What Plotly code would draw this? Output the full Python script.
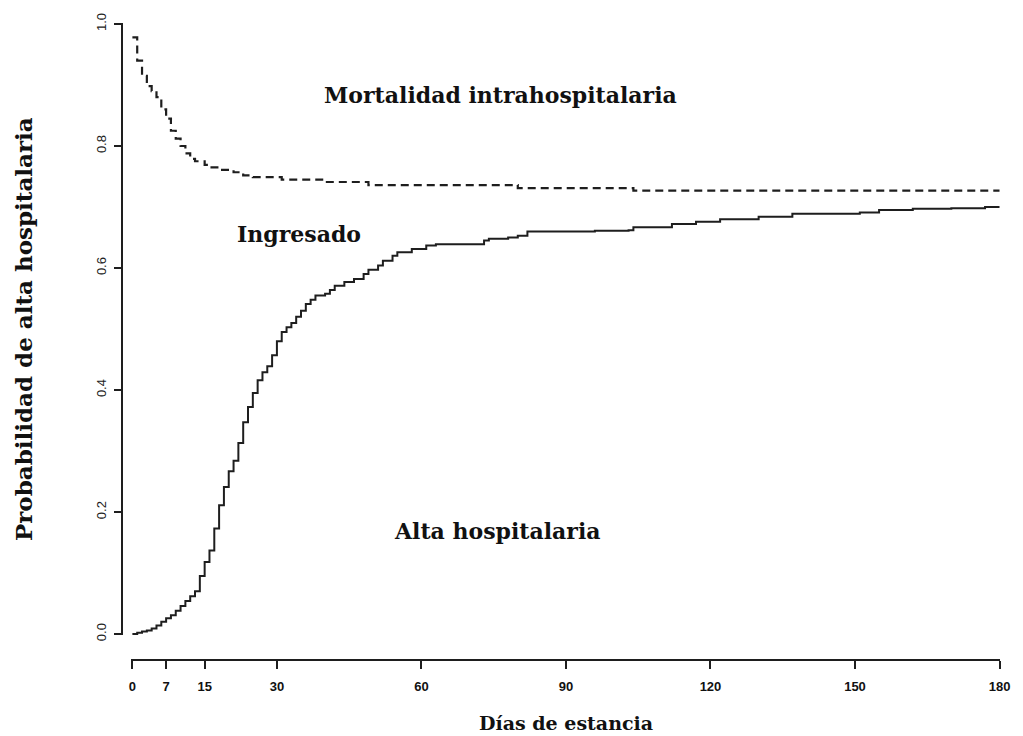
import plotly.graph_objects as go

# Cumulative probability of hospital discharge (solid step curve)
alta_dias = [0, 1, 2, 3, 4, 5, 6, 7, 8, 9, 10, 11, 12, 13, 14, 15, 16, 17, 18, 19,
             20, 21, 22, 23, 24, 25, 26, 27, 28, 29, 30, 31, 32, 33, 34, 35, 36, 37,
             38, 40, 41, 42, 44, 46, 48, 49, 51, 52, 54, 55, 58, 61, 63, 73, 74, 78,
             80, 82, 96, 103, 104, 112, 117, 122, 130, 137, 151, 155, 162, 170, 177, 180]
alta_prob = [0.000, 0.002, 0.004, 0.006, 0.009, 0.014, 0.020, 0.026, 0.031, 0.038,
             0.046, 0.054, 0.062, 0.070, 0.095, 0.118, 0.137, 0.173, 0.211, 0.241,
             0.267, 0.284, 0.313, 0.347, 0.372, 0.395, 0.416, 0.429, 0.439, 0.457,
             0.480, 0.495, 0.503, 0.510, 0.520, 0.530, 0.541, 0.548, 0.555, 0.558,
             0.564, 0.571, 0.577, 0.582, 0.590, 0.597, 0.604, 0.612, 0.620, 0.626,
             0.631, 0.637, 0.639, 0.645, 0.648, 0.650, 0.653, 0.660, 0.661, 0.662,
             0.667, 0.672, 0.676, 0.680, 0.684, 0.689, 0.691, 0.695, 0.697, 0.698,
             0.700, 0.700]

# Upper boundary: 1 - cumulative in-hospital mortality (dashed step curve)
mort_dias = [0, 1, 2, 3, 4, 5, 6, 7, 8, 9, 10, 11, 12, 13, 15, 16, 18, 21, 23, 25,
             31, 40, 49, 80, 104, 180]
mort_prob = [0.978, 0.940, 0.915, 0.898, 0.890, 0.880, 0.860, 0.845, 0.825, 0.812,
             0.800, 0.788, 0.779, 0.775, 0.769, 0.765, 0.761, 0.757, 0.752, 0.749,
             0.745, 0.741, 0.736, 0.731, 0.727, 0.727]

x_ticks = [0, 7, 15, 30, 60, 90, 120, 150, 180]
y_ticks = [0.0, 0.2, 0.4, 0.6, 0.8, 1.0]
y_tick_text = ["0.0", "0.2", "0.4", "0.6", "0.8", "1.0"]

region_labels = ["Mortalidad intrahospitalaria", "Ingresado", "Alta hospitalaria"]
region_x = [76.5, 34.6, 75.7]
region_y = [0.884, 0.655, 0.169]

INK = "#1e1e1e"
SERIF = "DejaVu Serif"
SANS = "Liberation Sans Narrow, Arial Narrow, Liberation Sans, Arial"

fig = go.Figure()
fig.add_trace(go.Scatter(x=mort_dias, y=mort_prob, mode="lines", line_shape="hv",
                         line=dict(color=INK, width=2.2, dash="8px,5px"),
                         showlegend=False, hoverinfo="skip"))
fig.add_trace(go.Scatter(x=alta_dias, y=alta_prob, mode="lines", line_shape="hv",
                         line=dict(color=INK, width=2),
                         showlegend=False, hoverinfo="skip"))

for txt, xx, yy in zip(region_labels, region_x, region_y):
    fig.add_annotation(x=xx, y=yy, xref="x", yref="y", text=txt, showarrow=False,
                       font=dict(family=SERIF, size=22, color="#111111", weight="bold"))

fig.add_annotation(x=90, y=-0.0986, xref="x", yref="paper", text="Días de estancia",
                   showarrow=False, yanchor="middle",
                   font=dict(family=SERIF, size=19, color="#111111", weight="bold"))
fig.add_annotation(x=-0.1126, y=0.5, xref="paper", yref="y",
                   text="Probabilidad de alta hospitalaria", textangle=-90,
                   showarrow=False, xanchor="center",
                   font=dict(family=SERIF, size=23, color="#111111", weight="bold"))

# R-style detached axes: each axis floats at the outer edge of the plotting space,
# while the data region is inset so the axis lines only span the data ranges.
fig.update_xaxes(range=[-0.2, 180.2], domain=[0.01073, 0.99940],
                 anchor="free", position=0,
                 tickmode="array", tickvals=x_ticks,
                 showline=True, linecolor=INK, linewidth=1.5,
                 ticks="outside", ticklen=8, tickwidth=1.5, tickcolor=INK,
                 ticklabelstandoff=7,
                 tickfont=dict(family=SANS, size=13, color="#111111", weight="bold"),
                 showgrid=False, zeroline=False)
fig.update_yaxes(range=[-0.002, 1.002], domain=[0.03878, 0.99878],
                 anchor="free", position=0,
                 tickmode="array", tickvals=y_ticks,
                 ticktext=y_tick_text, tickangle=-90,
                 showline=True, linecolor=INK, linewidth=1.5,
                 ticks="outside", ticklen=7, tickwidth=1.5, tickcolor=INK,
                 ticklabelstandoff=3,
                 tickfont=dict(family=SANS, size=13, color="#222222"),
                 showgrid=False, zeroline=False)

fig.update_layout(width=1023, height=736,
                  margin=dict(l=122, r=13, t=21, b=76),
                  paper_bgcolor="white", plot_bgcolor="white")

fig.write_html("out.html")
